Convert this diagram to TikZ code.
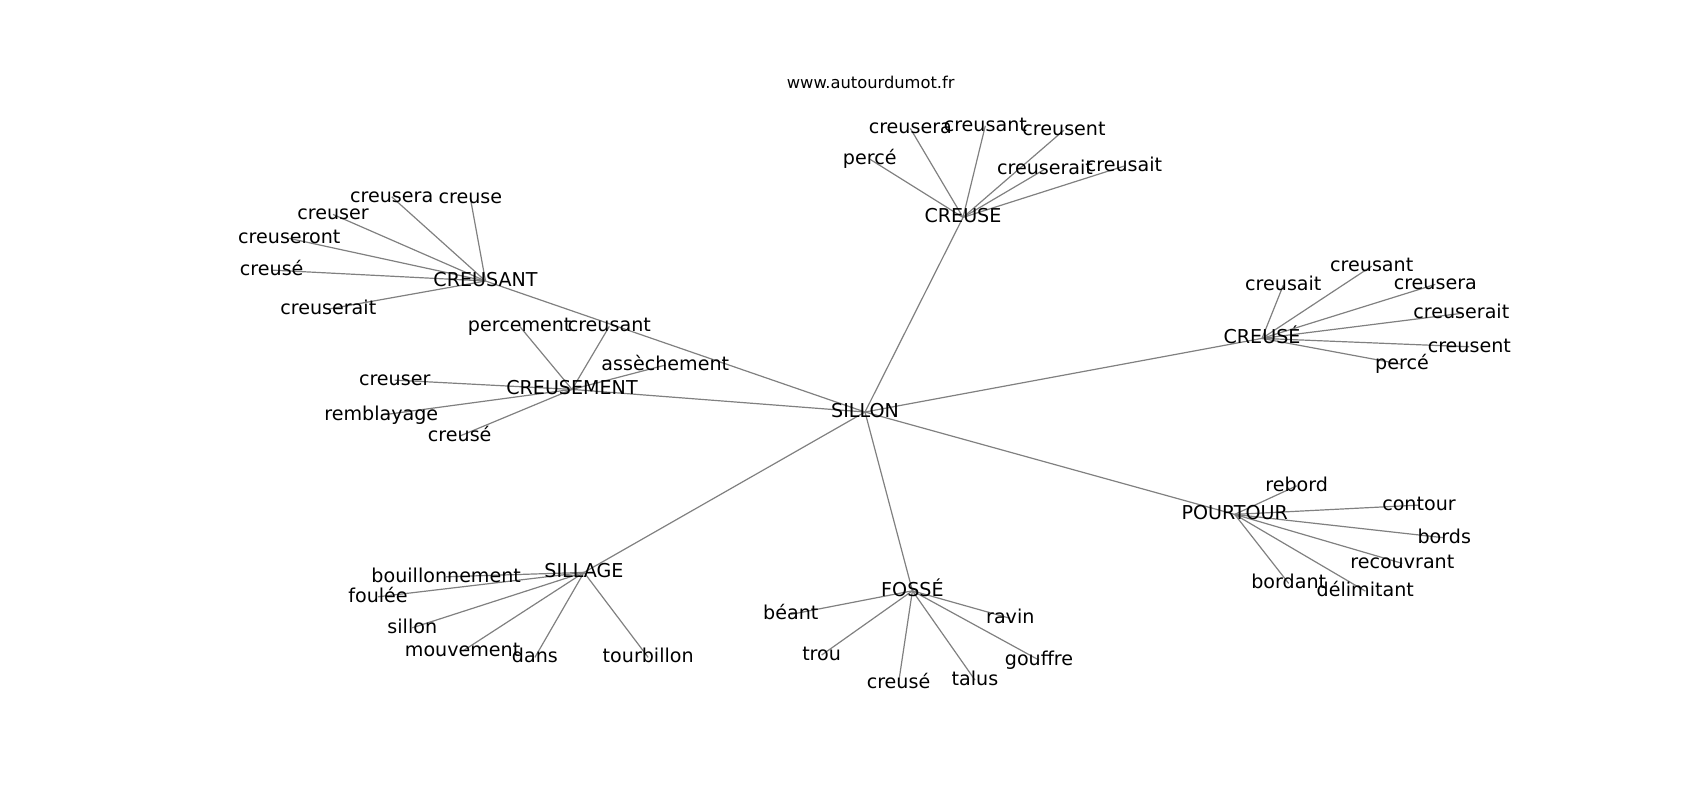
\documentclass[tikz,border=0pt]{standalone}
\usepackage{fontspec}
\setmainfont{DejaVu Sans}
\usetikzlibrary{backgrounds}

\tikzset{
  word/.style={font=\fontsize{19.1}{22}\selectfont, inner sep=0pt, text height=14.5pt, text depth=4pt},
  site/.style={font=\fontsize{16.3}{19}\selectfont, inner sep=0pt, text height=12.4pt, text depth=3.4pt},
  link/.style={gray, line width=1.2pt},
}

\begin{document}
\begin{tikzpicture}[x=1pt,y=-1pt]
\useasboundingbox (0,0) rectangle (1700,800);

    % source
    \node[site] (url) at (870.7,84.1) {www.autourdumot.fr};

    % centre word
    \node[word] (sillon) at (865,412) {SILLON};

    %%%%%%%%%%%%%%%%%%%%%%%%%%%%%%%%%%%%%%%%%%%%%%%%%%%%%%%%%

    % CREUSANT and its words
    \node[word] (csant) at (485.5,281) {CREUSANT};
    \node[word] (csant-creusera) at (391.7,196.8) {creusera};
    \node[word] (csant-creuse) at (470.3,197.8) {creuse};
    \node[word] (csant-creuser) at (333,214.4) {creuser};
    \node[word] (csant-creuseront) at (289.3,238.4) {creuseront};
    \node[word] (csant-creuseE) at (271.7,270.1) {creusé};
    \node[word] (csant-creuserait) at (328.3,309.1) {creuserait};

    % CREUSEMENT and its words
    \node[word] (cmt) at (572,389.4) {CREUSEMENT};
    \node[word] (cmt-percement) at (519.7,326.4) {percement};
    \node[word] (cmt-creusant) at (609.3,326.4) {creusant};
    \node[word] (cmt-assechement) at (665.3,365.1) {assèchement};
    \node[word] (cmt-creuser) at (394.7,380.1) {creuser};
    \node[word] (cmt-remblayage) at (381.3,415.1) {remblayage};
    \node[word] (cmt-creuseE) at (459.7,436.1) {creusé};

    % CREUSE and its words
    \node[word] (cse) at (963,217.4) {CREUSE};
    \node[word] (cse-creusera) at (910.3,128.4) {creusera};
    \node[word] (cse-creusant) at (985.3,125.8) {creusant};
    \node[word] (cse-creusent) at (1064,130.1) {creusent};
    \node[word] (cse-perceE) at (869.7,159.1) {percé};
    \node[word] (cse-creuserait) at (1045,169.1) {creuserait};
    \node[word] (cse-creusait) at (1124,166.1) {creusait};

    % CREUSÉ and its words
    \node[word] (cseE) at (1262,338.4) {CREUSÉ};
    \node[word] (cseE-creusant) at (1371.7,266.1) {creusant};
    \node[word] (cseE-creusait) at (1283.3,285.1) {creusait};
    \node[word] (cseE-creusera) at (1435.3,284.4) {creusera};
    \node[word] (cseE-creuserait) at (1461.3,313.4) {creuserait};
    \node[word] (cseE-creusent) at (1469.3,346.8) {creusent};
    \node[word] (cseE-perceE) at (1402,364.4) {percé};

    % POURTOUR and its words
    \node[word] (ptr) at (1234.7,514.4) {POURTOUR};
    \node[word] (ptr-rebord) at (1296.7,485.8) {rebord};
    \node[word] (ptr-contour) at (1419,505.1) {contour};
    \node[word] (ptr-bords) at (1444.3,537.8) {bords};
    \node[word] (ptr-recouvrant) at (1402.3,563.4) {recouvrant};
    \node[word] (ptr-bordant) at (1288.7,583.4) {bordant};
    \node[word] (ptr-delimitant) at (1365.3,591.1) {délimitant};

    % SILLAGE and its words
    \node[word] (slg) at (584,572.4) {SILLAGE};
    \node[word] (slg-bouillonnement) at (446.2,576.8) {bouillonnement};
    \node[word] (slg-foulee) at (378,596.8) {foulée};
    \node[word] (slg-sillon) at (412.3,627.8) {sillon};
    \node[word] (slg-mouvement) at (462.6,651.1) {mouvement};
    \node[word] (slg-dans) at (534.9,657.4) {dans};
    \node[word] (slg-tourbillon) at (648.2,657.4) {tourbillon};

    % FOSSÉ and its words
    \node[word] (fss) at (912.4,590.8) {FOSSÉ};
    \node[word] (fss-beant) at (790.8,614.4) {béant};
    \node[word] (fss-ravin) at (1010.3,618.4) {ravin};
    \node[word] (fss-trou) at (821.6,655.1) {trou};
    \node[word] (fss-gouffre) at (1039,660.1) {gouffre};
    \node[word] (fss-creuseE) at (898.5,683.4) {creusé};
    \node[word] (fss-talus) at (975,680.1) {talus};

    %%%%%%%%%%%%%%%%%%%%%%%%%%%%%%%%%%%%%%%%%%%%%%%%%%%%%%%%%

    \begin{pgfonlayer}{background}
    % centre to the hubs
    \draw[link] (sillon.center) to (csant.center);
    \draw[link] (sillon.center) to (cmt.center);
    \draw[link] (sillon.center) to (cse.center);
    \draw[link] (sillon.center) to (cseE.center);
    \draw[link] (sillon.center) to (ptr.center);
    \draw[link] (sillon.center) to (slg.center);
    \draw[link] (sillon.center) to (fss.center);

    % CREUSANT
    \draw[link] (csant.center) to (csant-creusera.center);
    \draw[link] (csant.center) to (csant-creuse.center);
    \draw[link] (csant.center) to (csant-creuser.center);
    \draw[link] (csant.center) to (csant-creuseront.center);
    \draw[link] (csant.center) to (csant-creuseE.center);
    \draw[link] (csant.center) to (csant-creuserait.center);

    % CREUSEMENT
    \draw[link] (cmt.center) to (cmt-percement.center);
    \draw[link] (cmt.center) to (cmt-creusant.center);
    \draw[link] (cmt.center) to (cmt-assechement.center);
    \draw[link] (cmt.center) to (cmt-creuser.center);
    \draw[link] (cmt.center) to (cmt-remblayage.center);
    \draw[link] (cmt.center) to (cmt-creuseE.center);

    % CREUSE
    \draw[link] (cse.center) to (cse-creusera.center);
    \draw[link] (cse.center) to (cse-creusant.center);
    \draw[link] (cse.center) to (cse-creusent.center);
    \draw[link] (cse.center) to (cse-perceE.center);
    \draw[link] (cse.center) to (cse-creuserait.center);
    \draw[link] (cse.center) to (cse-creusait.center);

    % CREUSÉ
    \draw[link] (cseE.center) to (cseE-creusant.center);
    \draw[link] (cseE.center) to (cseE-creusait.center);
    \draw[link] (cseE.center) to (cseE-creusera.center);
    \draw[link] (cseE.center) to (cseE-creuserait.center);
    \draw[link] (cseE.center) to (cseE-creusent.center);
    \draw[link] (cseE.center) to (cseE-perceE.center);

    % POURTOUR
    \draw[link] (ptr.center) to (ptr-rebord.center);
    \draw[link] (ptr.center) to (ptr-contour.center);
    \draw[link] (ptr.center) to (ptr-bords.center);
    \draw[link] (ptr.center) to (ptr-recouvrant.center);
    \draw[link] (ptr.center) to (ptr-bordant.center);
    \draw[link] (ptr.center) to (ptr-delimitant.center);

    % SILLAGE
    \draw[link] (slg.center) to (slg-bouillonnement.center);
    \draw[link] (slg.center) to (slg-foulee.center);
    \draw[link] (slg.center) to (slg-sillon.center);
    \draw[link] (slg.center) to (slg-mouvement.center);
    \draw[link] (slg.center) to (slg-dans.center);
    \draw[link] (slg.center) to (slg-tourbillon.center);

    % FOSSÉ
    \draw[link] (fss.center) to (fss-beant.center);
    \draw[link] (fss.center) to (fss-ravin.center);
    \draw[link] (fss.center) to (fss-trou.center);
    \draw[link] (fss.center) to (fss-gouffre.center);
    \draw[link] (fss.center) to (fss-creuseE.center);
    \draw[link] (fss.center) to (fss-talus.center);
    \end{pgfonlayer}

\end{tikzpicture}
\end{document}
